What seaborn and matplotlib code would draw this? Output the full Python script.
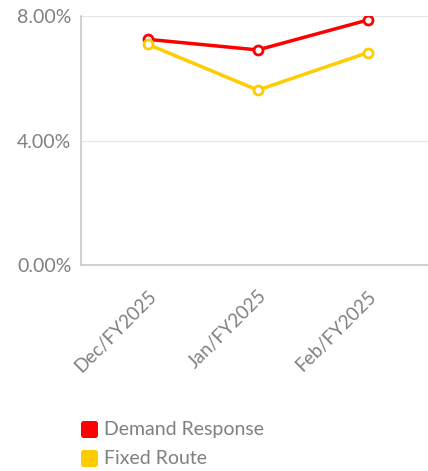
import pandas as pd
import seaborn as sns
import matplotlib.pyplot as plt
from matplotlib.patches import FancyBboxPatch
from matplotlib.ticker import FuncFormatter

months = ['Dec/FY2025', 'Jan/FY2025', 'Feb/FY2025']
demand_response = [7.25, 6.91, 7.87]
fixed_route = [7.09, 5.62, 6.82]
series_names = ['Demand Response', 'Fixed Route']
series_colors = ['#ff0000', '#ffcc00']

df = pd.DataFrame({
    'month': months * 2,
    'pct': demand_response + fixed_route,
    'series': [series_names[0]] * 3 + [series_names[1]] * 3,
})
df['x'] = df['month'].map({m: i for i, m in enumerate(months)})

sns.set_style('white')
plt.rcParams['font.family'] = ['Lato', 'DejaVu Sans']

fig = plt.figure(figsize=(4.28, 4.71), dpi=100)
ax = fig.add_axes([81 / 428, 1 - 265 / 471, 1 - 81 / 428, 249 / 471])

sns.lineplot(data=df, x='x', y='pct', hue='series', palette=series_colors,
             marker='o', markersize=6.5, markerfacecolor='white', markeredgewidth=2,
             linewidth=2.5, ax=ax, legend=False)
for line, c in zip(ax.lines, series_colors):
    line.set_markeredgecolor(c)

ax.set_xlim(-0.61, 2.55)
ax.set_ylim(0, 8)
ax.set_yticks([0, 4, 8])
ax.yaxis.set_major_formatter(FuncFormatter(lambda v, p: f'{v:.2f}%'))
ax.set_xticks(range(len(months)))
ax.set_xticklabels(months, rotation=45, ha='right', rotation_mode='anchor')
ax.set_xlabel('')
ax.set_ylabel('')
ax.grid(axis='y', color='#e8e8e8', linewidth=1)
ax.set_axisbelow(True)
for s in ['top', 'right']:
    ax.spines[s].set_visible(False)
for s in ['left', 'bottom']:
    ax.spines[s].set_color('#c8c8c8')
    ax.spines[s].set_linewidth(1.2)
ax.tick_params(axis='y', length=5, color='#c8c8c8', labelsize=14, labelcolor='#808080', pad=2)
ax.tick_params(axis='x', length=0, labelsize=13.5, labelcolor='#808080', pad=16)

# legend
for i, (name, c) in enumerate(zip(series_names, series_colors)):
    y = 421 + i * 29
    fig.patches.append(FancyBboxPatch((81 / 428, 1 - (y + 17) / 471), 17 / 428, 17 / 471,
                                      boxstyle='round,pad=0,rounding_size=0.006',
                                      transform=fig.transFigure, facecolor=c, edgecolor='none'))
    fig.text(104 / 428, 1 - (y + 9) / 471, name, fontsize=14, color='#808080', va='center')

fig.savefig('out.png', dpi=100)
